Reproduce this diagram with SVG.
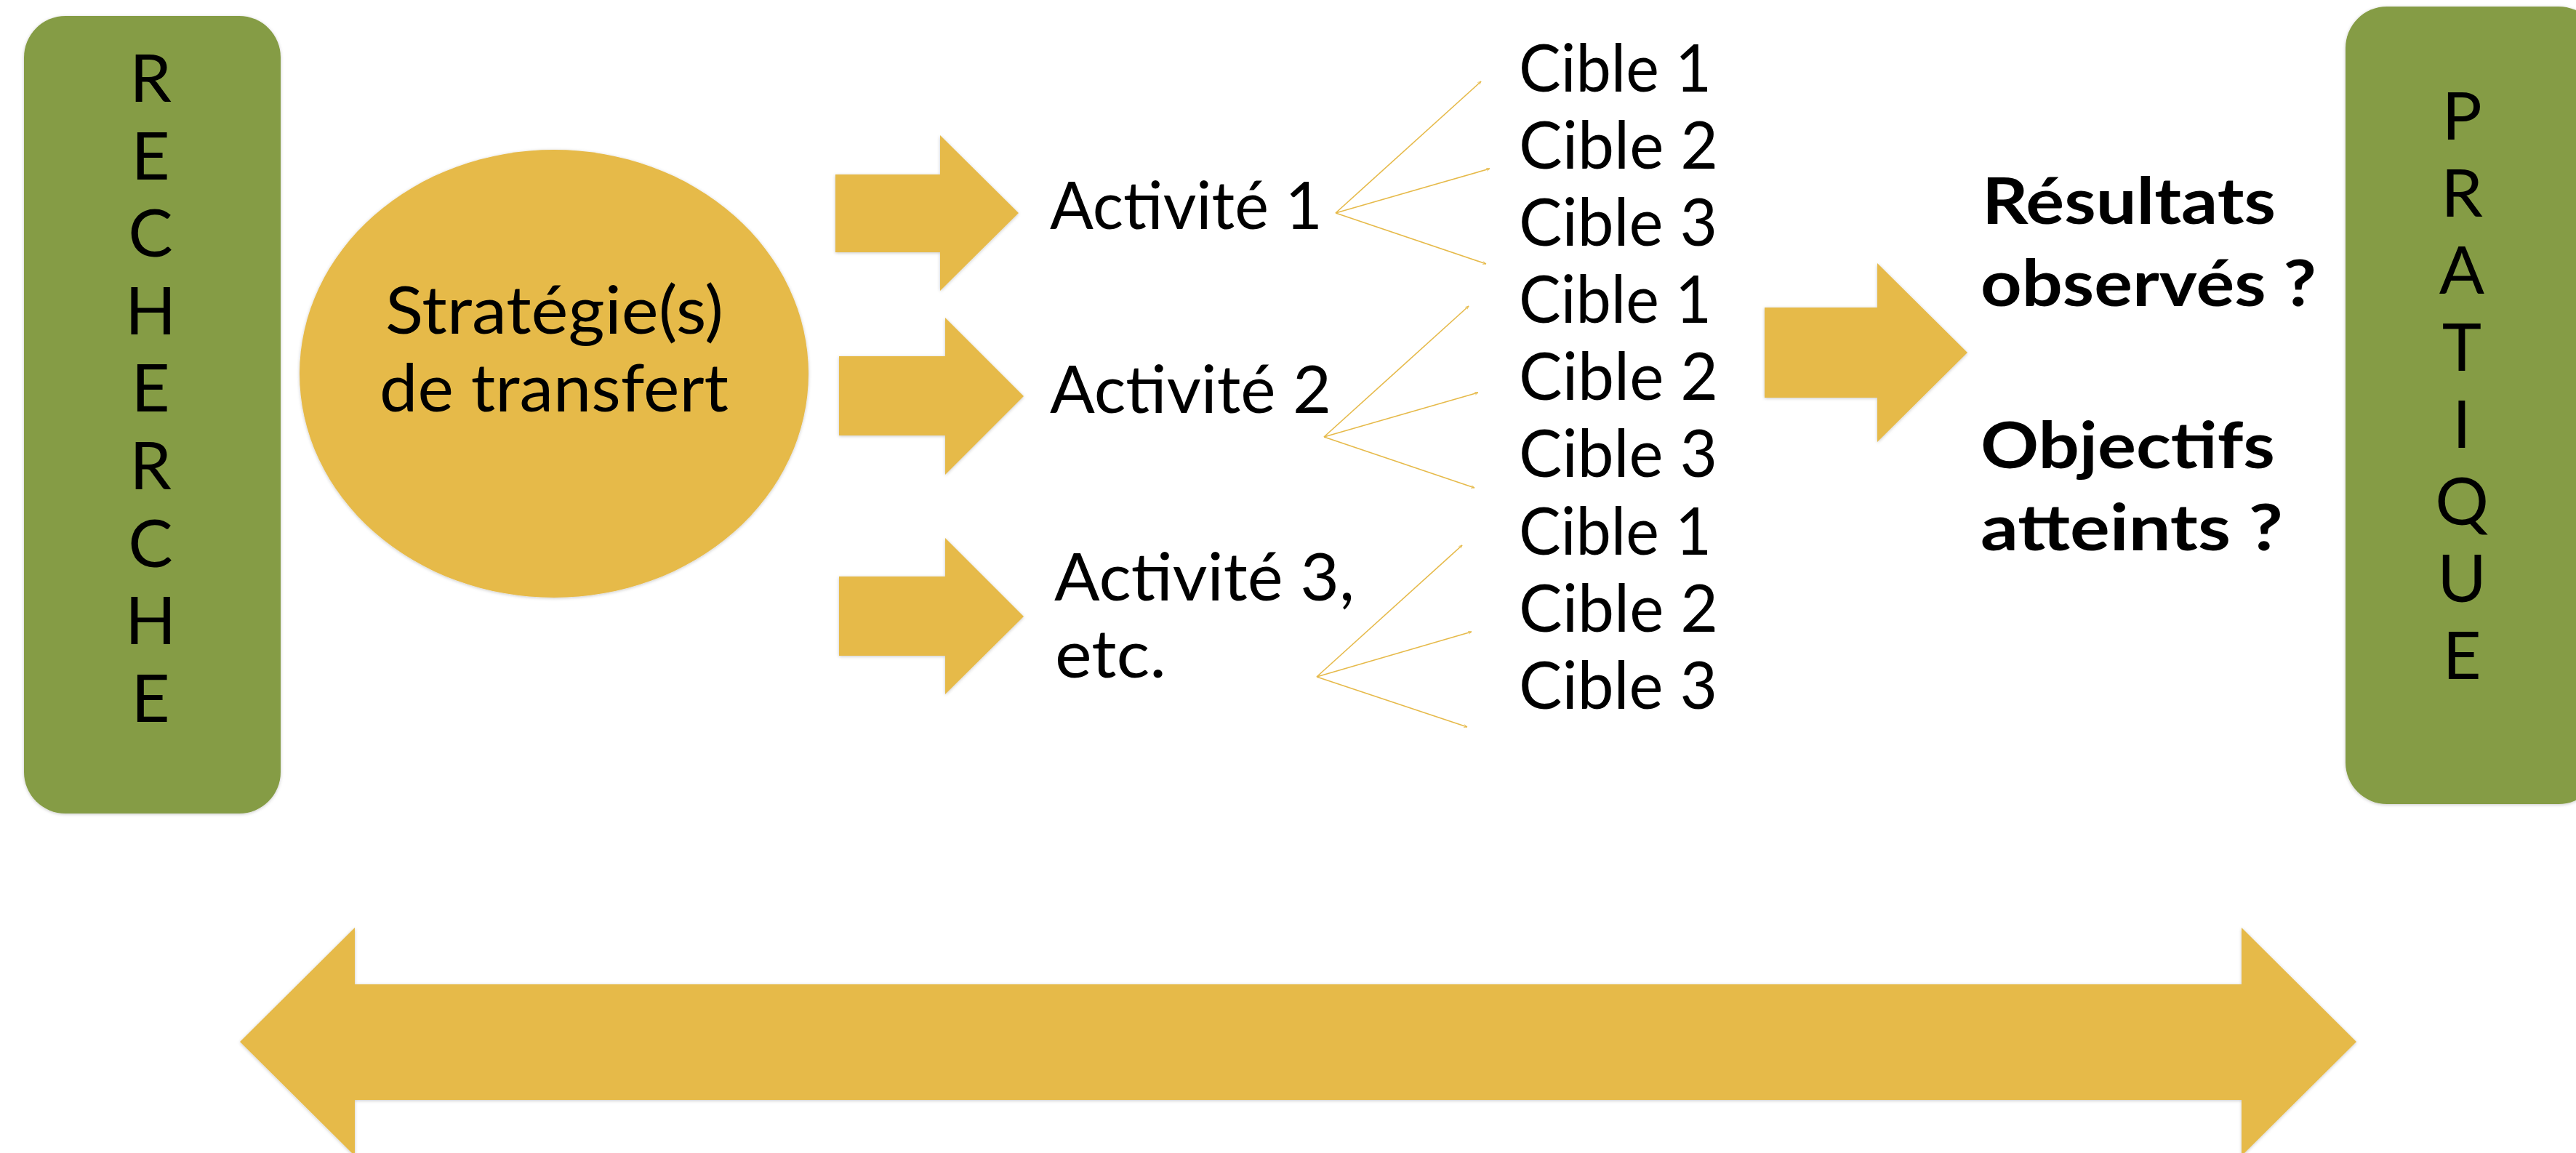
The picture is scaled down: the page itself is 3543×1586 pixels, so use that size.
<svg xmlns="http://www.w3.org/2000/svg" width="3543" height="1586" viewBox="0 0 3543 1586">
<defs>
<filter id="sh" x="-5%" y="-5%" width="110%" height="110%">
<feDropShadow dx="0" dy="1" stdDeviation="2" flood-color="#000" flood-opacity="0.22"/>
</filter>
<marker id="ah" viewBox="0 0 10 10" refX="9" refY="5" markerWidth="5" markerHeight="5" orient="auto" markerUnits="userSpaceOnUse">
<path d="M0,1 L9,5 L0,9" fill="none" stroke="#E6BA4A" stroke-width="1.5"/>
</marker>
</defs>
<style>
.green{fill:#859C44;filter:url(#sh)}
.gold{fill:#E6BA4A;filter:url(#sh)}
.v{font-family:Lato,"Open Sans",sans-serif;font-size:92px;fill:#000;text-anchor:middle}
.t{font-family:Lato,"Open Sans",sans-serif;font-size:91px;fill:#000}
.b{font-family:Lato,"Open Sans",sans-serif;font-size:88px;font-weight:bold;fill:#000}
.ln{stroke:#E6BA4A;stroke-width:1.6;fill:none;marker-end:url(#ah)}
</style>
<rect width="3543" height="1586" fill="#fff"/>
<g id="recherche">
<rect class="green" x="33" y="22" width="353" height="1097" rx="57" ry="57"/>
<text class="v" x="207" y="140">R</text>
<text class="v" x="207" y="247">E</text>
<text class="v" x="207" y="353">C</text>
<text class="v" x="207" y="460">H</text>
<text class="v" x="207" y="566">E</text>
<text class="v" x="207" y="673">R</text>
<text class="v" x="207" y="780">C</text>
<text class="v" x="207" y="886">H</text>
<text class="v" x="207" y="993">E</text>
</g>
<g id="pratique">
<rect class="green" x="3226" y="9" width="350" height="1097" rx="57" ry="57"/>
<text class="v" x="3386" y="192">P</text>
<text class="v" x="3386" y="298">R</text>
<text class="v" x="3386" y="404">A</text>
<text class="v" x="3386" y="510">T</text>
<text class="v" x="3386" y="616">I</text>
<text class="v" x="3386" y="722">Q</text>
<text class="v" x="3386" y="828">U</text>
<text class="v" x="3386" y="934">E</text>
</g>
<g id="strategie">
<ellipse class="gold" cx="762" cy="514" rx="350" ry="308"/>
<text class="t" x="530" y="459" textLength="465" lengthAdjust="spacingAndGlyphs">Stratégie(s)</text>
<text class="t" x="522" y="566" textLength="480" lengthAdjust="spacingAndGlyphs">de transfert</text>
</g>
<g id="arrows-activites">
<polygon class="gold" points="1149,240 1293,240 1293,186 1401,293 1293,400 1293,347 1149,347"/>
<polygon class="gold" points="1154,490 1300,490 1300,437 1408,545 1300,653 1300,599 1154,599"/>
<polygon class="gold" points="1154,793 1300,793 1300,740 1408,848 1300,955 1300,902 1154,902"/>
</g>
<g id="activite1">
<text class="t" x="1444" y="315" textLength="375" lengthAdjust="spacingAndGlyphs">Activité 1</text>
</g>
<g id="activite2">
<text class="t" x="1444" y="568" textLength="387" lengthAdjust="spacingAndGlyphs">Activité 2</text>
</g>
<g id="activite3">
<text class="t" x="1450" y="826" textLength="413" lengthAdjust="spacingAndGlyphs">Activité 3,</text>
<text class="t" x="1451" y="932" textLength="153" lengthAdjust="spacingAndGlyphs">etc.</text>
</g>
<g id="connectors">
<line class="ln" x1="1837" y1="293" x2="2037" y2="112"/>
<line class="ln" x1="1837" y1="293" x2="2049" y2="232"/>
<line class="ln" x1="1837" y1="293" x2="2044" y2="363"/>
<line class="ln" x1="1821" y1="601" x2="2020" y2="421"/>
<line class="ln" x1="1821" y1="601" x2="2033" y2="540"/>
<line class="ln" x1="1821" y1="601" x2="2028" y2="671"/>
<line class="ln" x1="1811" y1="931" x2="2011" y2="750"/>
<line class="ln" x1="1811" y1="931" x2="2024" y2="869"/>
<line class="ln" x1="1811" y1="931" x2="2018" y2="1000"/>
</g>
<g id="cibles">
<text class="t" x="2089" y="126" textLength="265" lengthAdjust="spacingAndGlyphs">Cible 1</text>
<text class="t" x="2089" y="232" textLength="274" lengthAdjust="spacingAndGlyphs">Cible 2</text>
<text class="t" x="2089" y="338" textLength="273" lengthAdjust="spacingAndGlyphs">Cible 3</text>
<text class="t" x="2089" y="444" textLength="265" lengthAdjust="spacingAndGlyphs">Cible 1</text>
<text class="t" x="2089" y="550" textLength="274" lengthAdjust="spacingAndGlyphs">Cible 2</text>
<text class="t" x="2089" y="656" textLength="273" lengthAdjust="spacingAndGlyphs">Cible 3</text>
<text class="t" x="2089" y="763" textLength="265" lengthAdjust="spacingAndGlyphs">Cible 1</text>
<text class="t" x="2089" y="869" textLength="274" lengthAdjust="spacingAndGlyphs">Cible 2</text>
<text class="t" x="2089" y="975" textLength="273" lengthAdjust="spacingAndGlyphs">Cible 3</text>
</g>
<g id="arrow-resultats">
<polygon class="gold" points="2427,423 2582,423 2582,362 2706,485 2582,608 2582,547 2427,547"/>
</g>
<g id="resultats">
<text class="b" x="2726" y="308" textLength="404" lengthAdjust="spacingAndGlyphs">Résultats</text>
<text class="b" x="2724" y="421" textLength="462" lengthAdjust="spacingAndGlyphs">observés ?</text>
<text class="b" x="2724" y="644" textLength="405" lengthAdjust="spacingAndGlyphs">Objectifs</text>
<text class="b" x="2724" y="757" textLength="416" lengthAdjust="spacingAndGlyphs">atteints ?</text>
</g>
<g id="double-arrow">
<polygon class="gold" points="330,1433 488,1276 488,1354 3083,1354 3083,1276 3241,1433 3083,1590 3083,1513 488,1513 488,1590"/>
</g>
</svg>
